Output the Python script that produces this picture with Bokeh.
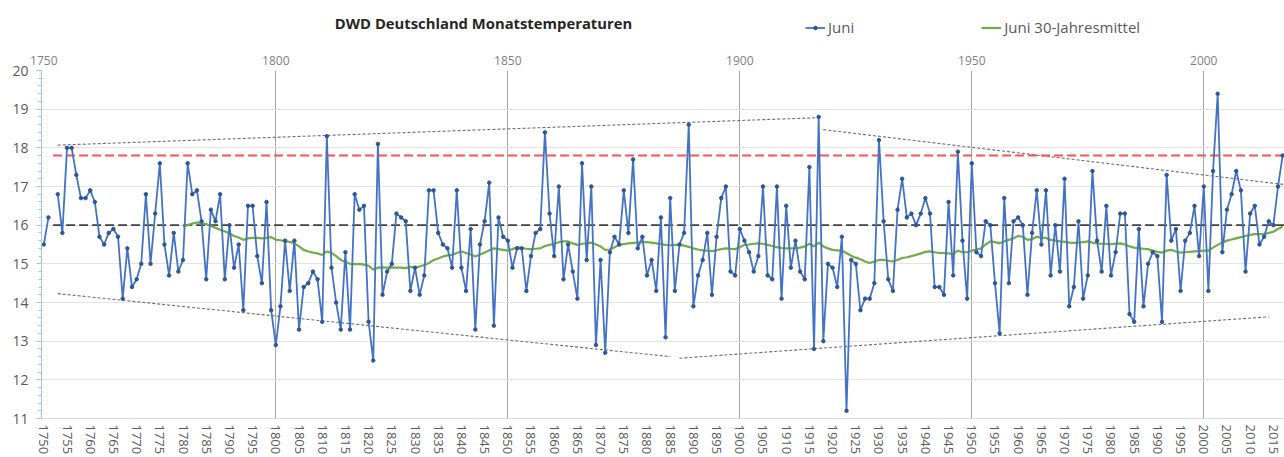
from bokeh.plotting import figure
from bokeh.layouts import column
from bokeh.models import (LinearAxis, FixedTicker, SingleIntervalTicker, Legend,
                          LegendItem, Label)
from bokeh.embed import file_html
from bokeh.resources import INLINE

nan = float("nan")

# ---------------- data ----------------
years = list(range(1750, 2018))
juni = [
    15.5, 16.2, nan, 16.8, 15.8, 18.0, 18.0, 17.3, 16.7, 16.7,   # 1750
    16.9, 16.6, 15.7, 15.5, 15.8, 15.9, 15.7, 14.1, 15.4, 14.4,  # 1760
    14.6, 15.0, 16.8, 15.0, 16.3, 17.6, 15.5, 14.7, 15.8, 14.8,  # 1770
    15.1, 17.6, 16.8, 16.9, 16.1, 14.6, 16.4, 16.1, 16.8, 14.6,  # 1780
    16.0, 14.9, 15.5, 13.8, 16.5, 16.5, 15.2, 14.5, 16.6, 13.8,  # 1790
    12.9, 13.9, 15.6, 14.3, 15.6, 13.3, 14.4, 14.5, 14.8, 14.6,  # 1800
    13.5, 18.3, 14.9, 14.0, 13.3, 15.3, 13.3, 16.8, 16.4, 16.5,  # 1810
    13.5, 12.5, 18.1, 14.2, 14.8, 15.0, 16.3, 16.2, 16.1, 14.3,  # 1820
    14.9, 14.2, 14.7, 16.9, 16.9, 15.8, 15.5, 15.4, 14.9, 16.9,  # 1830
    14.9, 14.3, 15.9, 13.3, 15.5, 16.1, 17.1, 13.4, 16.2, 15.7,  # 1840
    15.6, 14.9, 15.4, 15.4, 14.3, 15.2, 15.8, 15.9, 18.4, 16.3,  # 1850
    15.2, 17.0, 14.6, 15.5, 14.8, 14.1, 17.6, 15.1, 17.0, 12.9,  # 1860
    15.1, 12.7, 15.3, 15.7, 15.5, 16.9, 15.8, 17.7, 15.4, 15.7,  # 1870
    14.7, 15.1, 14.3, 16.2, 13.1, 16.7, 14.3, 15.5, 15.8, 18.6,  # 1880
    13.9, 14.7, 15.1, 15.8, 14.2, 15.7, 16.7, 17.0, 14.8, 14.7,  # 1890
    15.9, 15.6, 15.3, 14.8, 15.2, 17.0, 14.7, 14.6, 17.0, 14.1,  # 1900
    16.5, 14.9, 15.6, 14.8, 14.6, 17.5, 12.8, 18.8, 13.0, 15.0,  # 1910
    14.9, 14.4, 15.7, 11.2, 15.1, 15.0, 13.8, 14.1, 14.1, 14.5,  # 1920
    18.2, 16.1, 14.6, 14.3, 16.4, 17.2, 16.2, 16.3, 16.0, 16.3,  # 1930
    16.7, 16.3, 14.4, 14.4, 14.2, 16.6, 14.7, 17.9, 15.6, 14.1,  # 1940
    17.6, 15.3, 15.2, 16.1, 16.0, 14.5, 13.2, 16.7, 14.5, 16.1,  # 1950
    16.2, 16.0, 14.2, 15.8, 16.9, 15.5, 16.9, 14.7, 16.0, 14.8,  # 1960
    17.2, 13.9, 14.4, 16.1, 14.1, 14.7, 17.4, 15.6, 14.8, 16.5,  # 1970
    14.7, 15.3, 16.3, 16.3, 13.7, 13.5, 15.9, 13.9, 15.0, 15.3,  # 1980
    15.2, 13.5, 17.3, 15.6, 15.9, 14.3, 15.6, 15.8, 16.5, 15.2,  # 1990
    17.0, 14.3, 17.4, 19.4, 15.3, 16.4, 16.8, 17.4, 16.9, 14.8,  # 2000
    16.3, 16.5, 15.5, 15.7, 16.1, 16.0, 17.0, 17.8,              # 2010
]

mean_years = list(range(1780, 2018))
mean30 = [
    15.96, 16.00, 16.04, 16.07, 16.05, 16.03, 15.98, 15.93, 15.88, 15.84,  # 1780
    15.79, 15.72, 15.68, 15.62, 15.66, 15.67, 15.67, 15.66, 15.67, 15.69,  # 1790
    15.62, 15.61, 15.58, 15.57, 15.53, 15.45, 15.36, 15.32, 15.29, 15.27,  # 1800
    15.23, 15.32, 15.28, 15.20, 15.10, 15.05, 15.00, 14.99, 15.00, 14.98,  # 1810
    14.95, 14.85, 14.90, 14.91, 14.90, 14.91, 14.90, 14.90, 14.89, 14.92,  # 1820
    14.90, 14.93, 14.97, 15.02, 15.10, 15.14, 15.19, 15.22, 15.23, 15.28,  # 1830
    15.32, 15.28, 15.24, 15.19, 15.24, 15.29, 15.35, 15.40, 15.38, 15.36,  # 1840
    15.34, 15.38, 15.43, 15.41, 15.39, 15.38, 15.39, 15.40, 15.46, 15.49,  # 1850
    15.52, 15.56, 15.58, 15.58, 15.53, 15.49, 15.52, 15.53, 15.55, 15.50,  # 1860
    15.45, 15.36, 15.37, 15.43, 15.49, 15.51, 15.53, 15.54, 15.55, 15.56,  # 1870
    15.56, 15.55, 15.53, 15.51, 15.49, 15.48, 15.49, 15.49, 15.47, 15.44,  # 1880
    15.40, 15.37, 15.35, 15.34, 15.33, 15.35, 15.38, 15.40, 15.39, 15.38,  # 1890
    15.43, 15.49, 15.50, 15.52, 15.53, 15.52, 15.49, 15.46, 15.43, 15.41,  # 1900
    15.40, 15.40, 15.40, 15.42, 15.45, 15.52, 15.45, 15.55, 15.45, 15.40,  # 1910
    15.36, 15.35, 15.34, 15.28, 15.21, 15.16, 15.12, 15.06, 15.02, 15.06,  # 1920
    15.10, 15.10, 15.08, 15.06, 15.10, 15.15, 15.17, 15.20, 15.23, 15.27,  # 1930
    15.31, 15.32, 15.30, 15.28, 15.28, 15.27, 15.25, 15.34, 15.30, 15.30,  # 1940
    15.34, 15.37, 15.40, 15.50, 15.58, 15.56, 15.53, 15.58, 15.62, 15.66,  # 1950
    15.72, 15.70, 15.62, 15.64, 15.70, 15.67, 15.67, 15.62, 15.60, 15.58,  # 1960
    15.57, 15.55, 15.54, 15.55, 15.56, 15.58, 15.55, 15.53, 15.52, 15.52,  # 1970
    15.51, 15.52, 15.53, 15.50, 15.45, 15.42, 15.40, 15.39, 15.38, 15.34,  # 1980
    15.31, 15.29, 15.34, 15.36, 15.32, 15.29, 15.30, 15.31, 15.32, 15.33,  # 1990
    15.34, 15.34, 15.42, 15.49, 15.55, 15.60, 15.63, 15.66, 15.69, 15.72,  # 2000
    15.75, 15.77, 15.77, 15.77, 15.80, 15.83, 15.90, 15.96,                # 2010
]

# reference levels (horizontal dashed lines) and their year span
ref_span = [1752, 2017.4]
red_level = [17.8, 17.8]
black_level = [16.0, 16.0]

# hand-drawn envelope lines (start/end points)
env_upper_left_x, env_upper_left_y = [1753, 1917], [18.07, 18.78]
env_upper_right_x, env_upper_right_y = [1918, 2017.4], [18.47, 17.05]
env_lower_left_x, env_lower_left_y = [1753, 1885], [14.23, 12.60]
env_lower_right_x, env_lower_right_y = [1887, 2014], [12.56, 13.63]

top_ticks = [1750, 1800, 1850, 1900, 1950, 2000]
vgrid_years = [1800, 1850, 1900, 1950, 2000]

title_text = "DWD Deutschland Monatstemperaturen"
legend_juni = "Juni"
legend_mean = "Juni 30-Jahresmittel"

# ---------------- style ----------------
FONT = "Open Sans"
BLUE = "#4472c4"
DOT = "#2f5597"
GREEN = "#70ad47"
TXT = "#595959"
W = 1284
HEAD_H = 49
MAIN_H = 408

# ---------------- main chart ----------------
p = figure(width=W, height=MAIN_H, x_range=(1749.5, 2017.4), y_range=(11, 20),
           output_backend="svg", toolbar_location=None,
           min_border_left=41, min_border_right=0, min_border_top=21,
           min_border_bottom=38)
p.outline_line_color = None

# bottom axis
xa = p.xaxis[0]
xa.ticker = SingleIntervalTicker(interval=5, num_minor_ticks=0)
xa.major_label_orientation = "vertical"
xa.major_label_text_font = FONT
xa.major_label_text_font_size = "13px"
xa.major_label_text_color = TXT
xa.major_label_standoff = 6
xa.axis_line_color = "#d9d9d9"
xa.major_tick_line_color = None
xa.minor_tick_line_color = None
xa.major_tick_out = 0
xa.major_tick_in = 0

# left axis
ya = p.yaxis[0]
ya.ticker = SingleIntervalTicker(interval=1, num_minor_ticks=5)
ya.axis_line_color = "#9dc3e6"
ya.major_tick_line_color = "#9dc3e6"
ya.minor_tick_line_color = "#9dc3e6"
ya.major_tick_out = 5
ya.major_tick_in = 0
ya.minor_tick_out = 3
ya.minor_tick_in = 0
ya.major_label_standoff = 8
ya.major_label_text_font = FONT
ya.major_label_text_font_size = "14px"
ya.major_label_text_color = TXT

# top axis
ta = LinearAxis(ticker=FixedTicker(ticks=top_ticks))
ta.axis_line_color = None
ta.major_tick_line_color = None
ta.minor_tick_line_color = None
ta.major_tick_out = 0
ta.major_tick_in = 0
ta.major_label_standoff = 6
ta.major_label_text_font = FONT
ta.major_label_text_font_size = "12px"
ta.major_label_text_color = "#7f7f7f"
p.add_layout(ta, "above")

# grids
p.ygrid.grid_line_color = "#e4e4e4"
p.ygrid.grid_line_width = 1
p.xgrid.ticker = FixedTicker(ticks=vgrid_years)
p.xgrid.grid_line_color = "#a6a6a6"
p.xgrid.grid_line_width = 1

# envelope lines
for ex, ey in [(env_upper_left_x, env_upper_left_y),
               (env_upper_right_x, env_upper_right_y),
               (env_lower_left_x, env_lower_left_y),
               (env_lower_right_x, env_lower_right_y)]:
    p.line(ex, ey, line_color="#6e6e6e", line_width=1.1, line_dash="3 2")

# reference lines
p.line(ref_span, red_level, line_color="#ff5050", line_width=2, line_dash="9 4")
p.line(ref_span, black_level, line_color="#404040", line_width=1.6, line_dash="9 4")

# series
p.line(mean_years, mean30, line_color=GREEN, line_width=2.2)
p.line(years, juni, line_color=BLUE, line_width=1.8)
p.scatter(years, juni, size=3.5, marker="circle", fill_color=DOT, line_color=DOT)

# ---------------- header: title + legend ----------------
# (the column aligns this header's frame with the main frame, i.e. x=0 here is x=41 on the page)
h = figure(width=W, height=HEAD_H, x_range=(0, 1), y_range=(0, 1),
           output_backend="svg", toolbar_location=None, min_border=0,
           x_axis_location=None, y_axis_location=None)
h.grid.visible = False
h.outline_line_color = None
# legend samples: same series, drawn outside this header's visible range
hl_line = h.line(years, juni, line_color=BLUE, line_width=1.8)
hl_pts = h.scatter(years, juni, size=3, marker="circle", fill_color=DOT, line_color=DOT)
hl_mean = h.line(mean_years, mean30, line_color=GREEN, line_width=2.2)

legend = Legend(items=[LegendItem(label=legend_juni, renderers=[hl_line, hl_pts]),
                       LegendItem(label=legend_mean, renderers=[hl_mean])],
                orientation="horizontal", location=(764, 12),
                padding=0, margin=0, spacing=127, glyph_width=20, glyph_height=9,
                label_height=20, label_standoff=3, border_line_color=None,
                background_fill_alpha=0)
legend.label_text_font = FONT
legend.label_text_font_size = "15px"
legend.label_text_color = TXT
h.add_layout(legend, "center")

h.add_layout(Label(x=442, y=27, x_units="screen", y_units="screen", text=title_text,
                   text_align="center", text_baseline="middle", text_font=FONT,
                   text_font_size="14.8px", text_font_style="bold",
                   text_color="#262626"))

layout = column(h, p, spacing=0)
open("out.html", "w").write(file_html(layout, INLINE))
